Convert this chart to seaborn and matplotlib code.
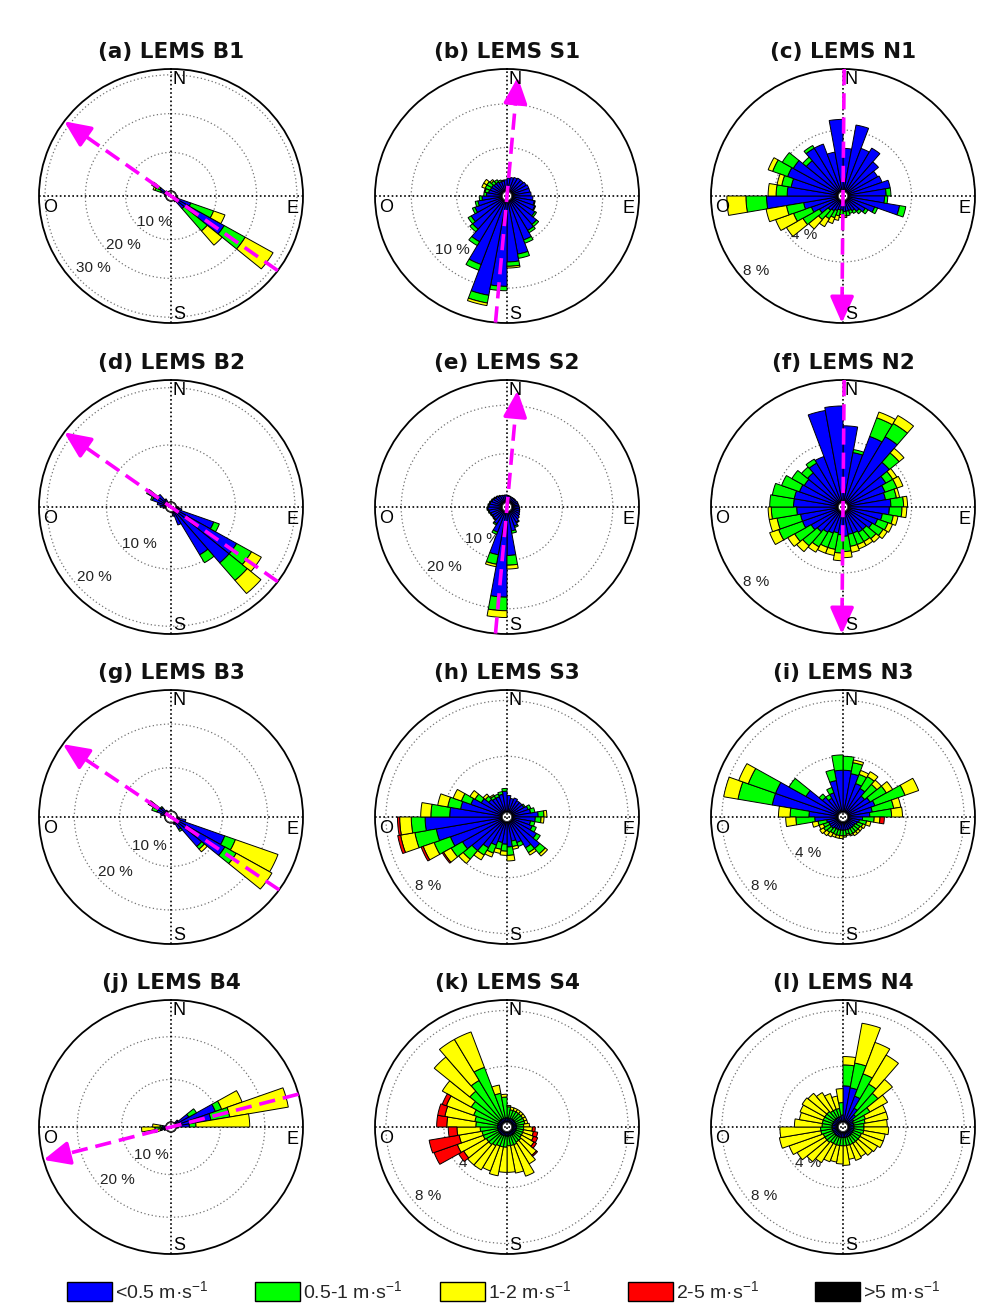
import numpy as np
import matplotlib
matplotlib.use("Agg")
import matplotlib.pyplot as plt
import seaborn as sns
from matplotlib.patches import Patch, Ellipse

# ---------------- data ----------------
# direction bins (centre, degrees from north, clockwise), 10 degree wide
DIR_BINS = [5, 15, 25, 35, 45, 55, 65, 75, 85, 95, 105, 115, 125, 135, 145, 155, 165, 175,
            185, 195, 205, 215, 225, 235, 245, 255, 265, 275, 285, 295, 305, 315, 325, 335, 345, 355]

SPEED_LABELS = ['<0.5 m·s$^{-1}$', '0.5-1 m·s$^{-1}$', '1-2 m·s$^{-1}$', '2-5 m·s$^{-1}$', '>5 m·s$^{-1}$']
SPEED_COLORS = ['#0000ff', '#00ff00', '#ffff00', '#ff0000', '#000000']

ZERO = [0, 0, 0, 0, 0, 0, 0, 0, 0, 0, 0, 0, 0, 0, 0, 0, 0, 0,
        0, 0, 0, 0, 0, 0, 0, 0, 0, 0, 0, 0, 0, 0, 0, 0, 0, 0]

# (a) LEMS B1  -- frequencies in % per direction bin
B1_BLUE = [0, 0, 0, 0, 0, 0, 0, 0, 0, 0, 0.5, 4, 14, 3, 0.5, 0, 0, 0,
           0, 0, 0, 0, 0, 0, 0, 0, 0, 0, 0.5, 1.5, 2, 0.5, 0, 0, 0, 0]
B1_GREEN = [0, 0, 0, 0, 0, 0, 0, 0, 0, 0, 0, 6, 6, 7.5, 0, 0, 0, 0,
            0, 0, 0, 0, 0, 0, 0, 0, 0, 0, 0, 1.5, 1.5, 0, 0, 0, 0, 0]
B1_YELLOW = [0, 0, 0, 0, 0, 0, 0, 0, 0, 0, 0, 3, 8, 4.8, 0, 0, 0, 0,
             0, 0, 0, 0, 0, 0, 0, 0, 0, 0, 0, 0.5, 0.8, 0, 0, 0, 0, 0]
# (b) LEMS S1
S1_BLUE = [1.5, 1.6, 1.7, 1.8, 1.8, 1.9, 2.0, 2.0, 2.1, 2.3, 2.5, 2.7, 3.0, 3.7, 4.0, 4.8, 6.2, 7.0,
           9.8, 11.0, 7.8, 5.5, 4.4, 4.0, 3.2, 2.7, 2.2, 1.7, 1.5, 1.4, 1.4, 1.3, 1.3, 1.2, 1.2, 1.3]
S1_GREEN = [0, 0, 0, 0, 0, 0, 0, 0, 0, 0, 0.1, 0.1, 0.2, 0.3, 0.3, 0.4, 0.5, 0.5,
            0.5, 0.9, 0.7, 0.5, 0.4, 0.4, 0.3, 0.3, 0.3, 0.3, 0.4, 0.6, 0.6, 0.4, 0.3, 0.2, 0.1, 0]
S1_YELLOW = [0, 0, 0, 0, 0, 0, 0, 0, 0, 0, 0, 0, 0, 0, 0, 0, 0, 0.2,
             0, 0.3, 0, 0, 0, 0, 0, 0, 0, 0, 0.1, 0.4, 0.4, 0.2, 0, 0, 0, 0]
# (c) LEMS N1
N1_BLUE = [2.8, 4.4, 3.0, 3.3, 2.6, 2.2, 2.3, 2.7, 2.4, 2.3, 3.3, 1.8, 1.3, 1.0, 0.8, 0.7, 0.7, 0.7,
           0.6, 0.6, 0.7, 0.8, 0.9, 1.4, 1.8, 2.2, 4.5, 3.2, 3.0, 3.4, 3.3, 2.7, 3.3, 3.3, 2.6, 4.7]
N1_GREEN = [0, 0, 0, 0, 0, 0, 0, 0, 0.3, 0.2, 0.4, 0.2, 0.2, 0.2, 0.2, 0.2, 0.3, 0.3,
            0.3, 0.4, 0.5, 0.6, 0.8, 1.2, 1.2, 1.1, 1.3, 0.7, 0.6, 1.0, 0.8, 0.3, 0.2, 0, 0, 0]
N1_YELLOW = [0, 0, 0, 0, 0, 0, 0, 0, 0, 0, 0, 0, 0, 0, 0, 0, 0, 0.1,
             0.2, 0.3, 0.4, 0.6, 0.8, 1.2, 1.2, 1.3, 1.2, 0.5, 0.3, 0.3, 0, 0, 0, 0, 0, 0]
# (d) LEMS B2
B2_BLUE = [0, 0, 0, 0, 0, 0, 0, 0, 0, 0.5, 1, 6.8, 11.9, 11.9, 8.8, 2.5, 0.8, 0,
           0, 0, 0, 0, 0, 0, 0, 0, 0.5, 1, 1.5, 2.5, 3.5, 2, 0.8, 0, 0, 0]
B2_GREEN = [0, 0, 0, 0, 0, 0, 0, 0, 0, 0, 0, 1.0, 2.9, 4.0, 1.6, 0, 0, 0,
            0, 0, 0, 0, 0, 0, 0, 0, 0, 0, 0, 0.3, 0.4, 0, 0, 0, 0, 0]
B2_YELLOW = [0, 0, 0, 0, 0, 0, 0, 0, 0, 0, 0, 0, 1.9, 3.0, 0, 0, 0, 0,
             0, 0, 0, 0, 0, 0, 0, 0, 0, 0, 0, 0, 0, 0, 0, 0, 0, 0]
# (e) LEMS S2
S2_BLUE = [1.4, 1.3, 1.2, 1.2, 1.2, 1.2, 1.3, 1.3, 1.4, 1.5, 1.6, 1.7, 1.9, 2.2, 2.6, 3.2, 4.0, 9.0,
           17.6, 9.0, 4.5, 3.0, 2.4, 2.3, 2.4, 2.6, 2.8, 2.6, 2.4, 2.2, 2.0, 1.9, 1.7, 1.6, 1.5, 1.5]
S2_GREEN = [0, 0, 0, 0, 0, 0, 0, 0, 0, 0, 0, 0, 0, 0, 0.2, 0.3, 0.5, 2.0,
            2.8, 2.0, 0.5, 0.3, 0.2, 0.2, 0.2, 0.2, 0.2, 0.2, 0.2, 0.2, 0.2, 0.1, 0.1, 0, 0, 0]
S2_YELLOW = [0, 0, 0, 0, 0, 0, 0, 0, 0, 0, 0, 0, 0, 0, 0, 0, 0, 0.8,
             1.4, 0.5, 0, 0, 0, 0, 0, 0, 0, 0, 0, 0, 0, 0, 0, 0, 0, 0]
# (f) LEMS N2
N2_BLUE = [5.0, 3.3, 4.6, 5.0, 3.5, 2.8, 2.5, 2.4, 2.7, 2.6, 2.2, 2.0, 1.8, 1.6, 1.6, 1.5, 1.5, 1.6,
           1.5, 1.4, 1.5, 1.6, 1.8, 2.0, 2.4, 2.4, 2.6, 2.8, 2.8, 2.6, 2.5, 2.6, 3.0, 3.2, 6.1, 6.3]
N2_GREEN = [0, 0.2, 1.3, 1.0, 0.8, 0.5, 0.8, 0.7, 0.8, 0.8, 0.7, 0.7, 0.8, 0.8, 0.7, 0.8, 0.8, 1.0,
            1.2, 1.1, 1.0, 1.1, 1.2, 1.2, 1.6, 1.5, 1.6, 1.5, 1.4, 1.2, 0.9, 0.5, 0.3, 0, 0, 0]
N2_YELLOW = [0, 0, 0.4, 0.6, 0.4, 0.3, 0.4, 0.2, 0.25, 0.3, 0.3, 0.3, 0.3, 0.3, 0.3, 0.3, 0.4, 0.4,
             0.5, 0.4, 0.4, 0.4, 0.5, 0.5, 0.6, 0.5, 0.2, 0, 0, 0, 0, 0, 0, 0, 0, 0]
# (g) LEMS B3
B3_BLUE = [0, 0, 0, 0, 0, 0, 0, 0, 0, 0.5, 2, 11.3, 12.4, 7.5, 2, 0.5, 0, 0,
           0, 0, 0, 0, 0, 0, 0, 0, 0, 0, 1, 2, 2.5, 1.5, 0.5, 0, 0, 0]
B3_GREEN = [0, 0, 0, 0, 0, 0, 0, 0, 0, 0, 0, 2.5, 2.9, 0.8, 0.5, 0, 0, 0,
            0, 0, 0, 0, 0, 0, 0, 0, 0, 0, 0, 1.2, 1.5, 0.3, 0, 0, 0, 0]
B3_YELLOW = [0, 0, 0, 0, 0, 0, 0, 0, 0, 0, 0, 10.0, 9.1, 0.8, 0, 0, 0, 0,
             0, 0, 0, 0, 0, 0, 0, 0, 0, 0, 0, 0, 0.5, 0, 0, 0, 0, 0]
# (h) LEMS S3
S3_BLUE = [1.2, 1.0, 1.1, 1.0, 1.0, 1.0, 1.2, 1.3, 1.8, 1.6, 1.3, 1.5, 2.0, 2.6, 2.2, 1.6, 1.4, 1.8,
           1.6, 1.5, 1.8, 2.2, 2.8, 3.2, 3.8, 4.6, 5.3, 3.6, 2.9, 2.3, 1.7, 1.3, 1.2, 1.2, 1.3, 1.5]
S3_GREEN = [0, 0, 0, 0, 0, 0.1, 0.2, 0.3, 0.4, 0.4, 0.3, 0.3, 0.3, 0.5, 0.4, 0.3, 0.4, 0.6,
            0.5, 0.5, 0.6, 0.6, 0.8, 0.9, 1.2, 1.5, 0.95, 1.3, 0.9, 0.7, 0.5, 0.3, 0.2, 0.2, 0.2, 0.2]
S3_YELLOW = [0, 0, 0, 0, 0, 0, 0, 0, 0.2, 0.2, 0, 0, 0, 0.2, 0.2, 0, 0.2, 0.4,
             0.3, 0.3, 0.3, 0.4, 0.4, 0.6, 0.8, 1.0, 0.8, 0.7, 0.7, 0.6, 0.4, 0.2, 0.1, 0, 0, 0]
S3_RED = [0, 0, 0, 0, 0, 0, 0, 0, 0, 0, 0, 0, 0, 0, 0, 0, 0, 0,
          0, 0, 0, 0, 0, 0.1, 0.15, 0.2, 0.15, 0, 0, 0, 0, 0, 0, 0, 0, 0]
# (i) LEMS N3
N3_BLUE = [3.0, 2.8, 2.2, 2.0, 1.6, 1.8, 2.0, 1.7, 1.5, 1.0, 0.8, 0.7, 0.6, 0.6, 0.6, 0.6, 0.6, 0.6,
           0.6, 0.6, 0.6, 0.6, 0.7, 0.7, 0.7, 0.8, 1.6, 2.0, 4.6, 4.6, 2.6, 1.5, 1.2, 1.5, 2.3, 3.0]
N3_GREEN = [1.0, 0.8, 0.7, 1.0, 1.1, 1.3, 2.2, 1.5, 1.5, 0.8, 0.5, 0.4, 0.4, 0.4, 0.4, 0.4, 0.3, 0.4,
            0.4, 0.4, 0.4, 0.4, 0.4, 0.5, 0.4, 0.6, 1.3, 1.3, 2.4, 2.0, 1.35, 0.3, 0.3, 0.4, 0.8, 1.1]
N3_YELLOW = [0, 0.2, 0.3, 0.4, 0.4, 0.5, 1.0, 0.5, 0.75, 0.4, 0.3, 0.2, 0.2, 0.2, 0.2, 0.1, 0.1, 0.1,
             0.2, 0.2, 0.2, 0.3, 0.3, 0.3, 0.3, 0.4, 0.7, 0.8, 1.0, 0.7, 0, 0, 0, 0, 0, 0]
N3_RED = [0, 0, 0, 0, 0, 0, 0, 0, 0, 0.3, 0, 0, 0, 0, 0, 0, 0, 0,
          0, 0, 0, 0, 0, 0, 0, 0, 0, 0, 0, 0, 0, 0, 0, 0, 0, 0]
# (j) LEMS B4
B4_BLUE = [0, 0, 0, 0, 1, 3.5, 9.5, 8, 3, 0.5, 0, 0, 0, 0, 0, 0, 0, 0,
           0, 0, 0, 0, 0, 0, 0.5, 1, 1, 0.8, 0, 0, 0, 0, 0, 0, 0, 0]
B4_GREEN = [0, 0, 0, 0, 0, 2, 1.5, 4.3, 1.5, 0, 0, 0, 0, 0, 0, 0, 0, 0,
            0, 0, 0, 0, 0, 0, 0, 0.3, 1.5, 0.5, 0, 0, 0, 0, 0, 0, 0, 0]
B4_YELLOW = [0, 0, 0, 0, 0, 0, 4.9, 13.4, 12.1, 0, 0, 0, 0, 0, 0, 0, 0, 0,
             0, 0, 0, 0, 0, 0, 0, 1.5, 3, 1.7, 0, 0, 0, 0, 0, 0, 0, 0]
# (k) LEMS S4
S4_BLUE = [0.3, 0.3, 0.3, 0.3, 0.3, 0.3, 0.3, 0.3, 0.3, 0.3, 0.3, 0.3, 0.3, 0.3, 0.3, 0.3, 0.3, 0.3,
           0.3, 0.3, 0.3, 0.3, 0.3, 0.3, 0.3, 0.3, 0.3, 0.3, 0.3, 0.3, 0.3, 0.3, 0.3, 0.3, 0.3, 0.3]
S4_GREEN = [0.8, 0.6, 0.6, 0.6, 0.6, 0.6, 0.6, 0.6, 0.5, 0.5, 0.5, 0.5, 0.5, 0.6, 0.6, 0.7, 0.7, 0.7,
            0.8, 0.8, 0.8, 0.9, 1.0, 1.0, 1.1, 1.1, 1.2, 1.5, 1.6, 1.8, 2.2, 2.7, 3.2, 3.9, 1.8, 1.5]
S4_YELLOW = [0.1, 0.2, 0.2, 0.2, 0.2, 0.2, 0.2, 0.2, 0.4, 0.6, 0.7, 0.8, 1.0, 1.4, 1.8, 2.4, 2.0, 1.9,
             1.8, 2.1, 1.9, 2.0, 1.9, 1.8, 1.9, 1.6, 1.6, 2.0, 2.1, 2.0, 2.3, 3.2, 3.4, 2.7, 0.6, 0.2]
S4_RED = [0, 0, 0, 0, 0, 0, 0, 0, 0, 0.2, 0.3, 0.3, 0.2, 0.1, 0, 0, 0, 0,
          0, 0, 0, 0, 0, 0.4, 1.7, 2.1, 0.6, 0.7, 0.5, 0.3, 0, 0, 0, 0, 0, 0]
# (l) LEMS N4
N4_BLUE = [2.6, 2.5, 2.0, 1.2, 0.8, 0.5, 0.4, 0.4, 0.4, 0.4, 0.4, 0.4, 0.4, 0.4, 0.4, 0.4, 0.4, 0.4,
           0.4, 0.4, 0.4, 0.4, 0.4, 0.4, 0.4, 0.4, 0.4, 0.4, 0.4, 0.4, 0.4, 0.4, 0.4, 0.4, 0.4, 0.5]
N4_GREEN = [1.5, 1.8, 1.7, 2.0, 2.0, 1.3, 0.9, 0.8, 0.7, 0.7, 0.7, 0.6, 0.6, 0.6, 0.6, 0.6, 0.6, 0.6,
            0.6, 0.6, 0.6, 0.6, 0.7, 0.7, 0.7, 0.8, 0.8, 0.7, 0.7, 0.7, 0.7, 0.7, 0.6, 0.6, 0.6, 0.9]
N4_YELLOW = [0.6, 2.9, 2.4, 2.4, 1.3, 1.4, 1.5, 1.6, 1.6, 1.7, 1.5, 1.6, 1.4, 1.3, 1.1, 1.2, 1.0, 1.4,
             1.3, 1.2, 1.3, 1.6, 1.8, 2.2, 2.5, 2.9, 2.8, 1.9, 1.6, 1.7, 1.8, 1.7, 1.5, 1.2, 0.9, 1.0]

TITLES = ['(a) LEMS B1', '(b) LEMS S1', '(c) LEMS N1',
          '(d) LEMS B2', '(e) LEMS S2', '(f) LEMS N2',
          '(g) LEMS B3', '(h) LEMS S3', '(i) LEMS N3',
          '(j) LEMS B4', '(k) LEMS S4', '(l) LEMS N4']

# ring values (%) and which of them carry a label
RINGS = [[10, 20, 30], [5, 10], [4, 8], [10, 20], [10, 20], [4, 8],
         [10, 20], [4, 8], [4, 8], [10, 20], [4, 8], [4, 8]]
RING_LABELS = [[10, 20, 30], [10], [4, 8], [10, 20], [10, 20], [8],
               [10, 20], [8], [4, 8], [10, 20], [4, 8], [4, 8]]
R_MAX = [31.5, 14.0, 8.0, 21.35, 25.2, 8.0, 27.8, 8.75, 8.75, 28.6, 8.75, 8.75]
HOLE = [1.25, 0.56, 0.32, 0.85, 1.0, 0.32, 1.33, 0.35, 0.35, 1.14, 0.35, 0.35]
# dominant-flow arrows: (tip azimuth deg, tip radius fraction) or None
ARROWS = [(306, 1.0), (5, 0.94), (180.5, 1.0),
          (306, 1.0), (5, 0.92), (180.5, 1.0),
          (305, 1.0), None, None,
          (255, 1.0), None, None]

SERIES = [
    (B1_BLUE, B1_GREEN, B1_YELLOW, ZERO),
    (S1_BLUE, S1_GREEN, S1_YELLOW, ZERO),
    (N1_BLUE, N1_GREEN, N1_YELLOW, ZERO),
    (B2_BLUE, B2_GREEN, B2_YELLOW, ZERO),
    (S2_BLUE, S2_GREEN, S2_YELLOW, ZERO),
    (N2_BLUE, N2_GREEN, N2_YELLOW, ZERO),
    (B3_BLUE, B3_GREEN, B3_YELLOW, ZERO),
    (S3_BLUE, S3_GREEN, S3_YELLOW, S3_RED),
    (N3_BLUE, N3_GREEN, N3_YELLOW, N3_RED),
    (B4_BLUE, B4_GREEN, B4_YELLOW, ZERO),
    (S4_BLUE, S4_GREEN, S4_YELLOW, S4_RED),
    (N4_BLUE, N4_GREEN, N4_YELLOW, ZERO),
]

# ---------------- style ----------------
sns.set_theme(style='white')
plt.rcParams['font.family'] = ['Liberation Sans', 'DejaVu Sans']
plt.rcParams['mathtext.fontset'] = 'custom'
plt.rcParams['mathtext.rm'] = 'Liberation Sans'
plt.rcParams['mathtext.it'] = 'Liberation Sans:italic'
plt.rcParams['mathtext.bf'] = 'Liberation Sans:bold'

W, H = 983, 1306
fig = plt.figure(figsize=(W / 100, H / 100), dpi=100)
fig.patch.set_facecolor('white')

COL_X = [171, 507, 843]
ROW_Y = [196, 507, 817, 1127]
RX, RY = 132, 127

palette = sns.color_palette(SPEED_COLORS)
theta = np.deg2rad(DIR_BINS)
width = np.deg2rad(10)

for i in range(12):
    r, c = divmod(i, 3)
    cx, cy = COL_X[c], ROW_Y[r]
    ax = fig.add_axes([(cx - RX) / W, 1 - (cy + RY) / H, 2 * RX / W, 2 * RY / H], projection='polar')
    ax.set_aspect('auto')
    ax.set_theta_zero_location('N')
    ax.set_theta_direction(-1)
    ax.set_rorigin(-HOLE[i])
    ax.set_ylim(0, R_MAX[i])
    ax.set_facecolor('white')

    bottom = np.zeros(len(DIR_BINS))
    for k, vals in enumerate(SERIES[i]):
        v = np.asarray(vals, dtype=float)
        m = v > 0
        if m.any():
            ax.bar(theta[m], v[m], width=width, bottom=bottom[m], color=palette[k],
                   edgecolor='black', linewidth=0.7, zorder=3, align='center')
        bottom += v

    # rings
    ax.set_xticks([])
    ax.set_yticks(RINGS[i])
    ax.set_yticklabels([])
    ax.yaxis.grid(True, linestyle=(0, (1, 2)), color='0.45', linewidth=0.9)
    ax.xaxis.grid(False)
    ax.set_axisbelow(True)
    ax.spines['polar'].set_color('black')
    ax.spines['polar'].set_linewidth(1.3)
    for sp in ('inner', 'start', 'end'):
        if sp in ax.spines:
            ax.spines[sp].set_visible(False)

    # crosshair
    ax.plot([0.5, 0.5], [0, 1], transform=ax.transAxes, color='black', lw=1.2,
            ls=(0, (1, 1.5)), zorder=2, clip_on=False)
    ax.plot([0, 1], [0.5, 0.5], transform=ax.transAxes, color='black', lw=1.2,
            ls=(0, (1, 1.5)), zorder=2, clip_on=False)

    # centre hole
    tot = HOLE[i] + R_MAX[i]
    hf = HOLE[i] / tot
    ax.add_patch(Ellipse((0.5, 0.5), hf, hf, transform=ax.transAxes, facecolor='white',
                         edgecolor='black', linewidth=0.9, zorder=4))

    # ring labels
    a = np.deg2rad(232)
    for rv in RING_LABELS[i]:
        f = (HOLE[i] + rv) / tot * 0.96
        ax.text(0.5 + 0.5 * f * np.sin(a), 0.5 + 0.5 * f * np.cos(a), f'{rv} %',
                transform=ax.transAxes, ha='left', va='center', fontsize=11,
                color='#222222', zorder=2.5)

    # compass letters
    lk = dict(transform=ax.transAxes, fontsize=13, color='black', zorder=6, va='baseline')
    ax.text(0.5 + 2 / (2 * RX), 1 - 15 / (2 * RY), 'N', ha='left', **lk)
    ax.text(0.5 + 2 / (2 * RX), 4 / (2 * RY), 'S', ha='left', **lk)
    ax.text(1 - 5 / (2 * RX), 0.5 - 17 / (2 * RY), 'E', ha='right', **lk)
    ax.text(4 / (2 * RX), 0.5 - 16 / (2 * RY), 'O', ha='left', **lk)

    # flow arrow
    if ARROWS[i] is not None:
        az, ft = ARROWS[i]
        t = np.deg2rad(az)
        tip = (0.5 + 0.5 * ft * np.sin(t), 0.5 + 0.5 * ft * np.cos(t))
        tail = (0.5 - 0.5 * np.sin(t), 0.5 - 0.5 * np.cos(t))
        fb = ft - 0.17
        base = (0.5 + 0.5 * fb * np.sin(t), 0.5 + 0.5 * fb * np.cos(t))
        ax.plot([tail[0], base[0]], [tail[1], base[1]], transform=ax.transAxes,
                color='#ff00ff', lw=2.6, ls=(0, (4.5, 2.2)), zorder=5, clip_on=False,
                solid_capstyle='butt', dash_capstyle='butt')
        ax.annotate('', xy=tip, xycoords='axes fraction', xytext=base, textcoords='axes fraction',
                    arrowprops=dict(arrowstyle='-|>,head_length=1.0,head_width=0.45',
                                    mutation_scale=16, color='#ff00ff', lw=2.6,
                                    shrinkA=0, shrinkB=0), zorder=5, annotation_clip=False)

    # title
    fig.text(cx / W, 1 - (cy - RY - 11) / H, TITLES[i], ha='center', va='baseline',
             fontsize=15.5, fontweight='bold', family='DejaVu Sans', color='#111111')

# legend
LEG_X = [67, 255, 440, 628, 815]
fs = 14
em = fs * 100 / 72
for k in range(5):
    fig.legend(handles=[Patch(facecolor=palette[k], edgecolor='black', linewidth=1.0)],
               labels=[SPEED_LABELS[k]], loc='center left',
               bbox_to_anchor=(LEG_X[k] / W, 1 - 1291 / H), frameon=False,
               borderpad=0, borderaxespad=0, fontsize=fs,
               handlelength=45 / em, handleheight=23 / em, handletextpad=0.15)

fig.savefig('out.png', dpi=100, facecolor='white')
